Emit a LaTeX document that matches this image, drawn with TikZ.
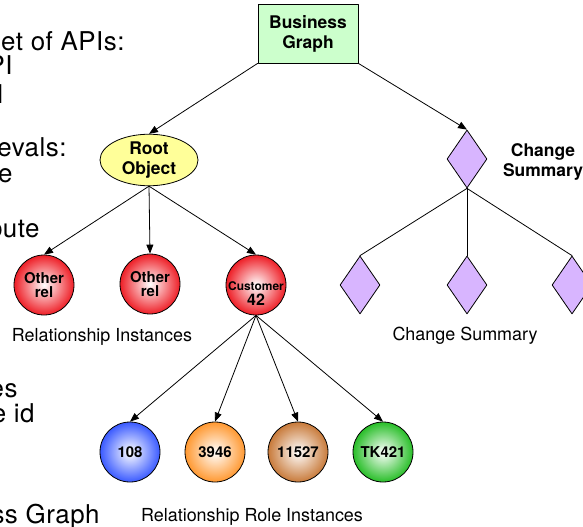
\documentclass[tikz,border=0pt]{standalone}
\usepackage{fontspec}
\setmainfont{TeX Gyre Heros}
\usetikzlibrary{shapes.geometric,arrows.meta}
\definecolor{bgreen}{RGB}{204,255,204}
\definecolor{ryellow}{RGB}{255,255,153}
\definecolor{lav}{RGB}{216,181,255}
\definecolor{relred}{RGB}{238,30,38}
\definecolor{roleblue}{RGB}{58,90,255}
\definecolor{roleorange}{RGB}{255,152,48}
\definecolor{rolebrown}{RGB}{200,122,58}
\definecolor{rolegreen}{RGB}{40,190,40}
\begin{document}
\begin{tikzpicture}[x=1bp,y=-1bp,line join=round,line cap=round,>={Triangle[length=9pt,width=7pt]},line width=0.8pt]
		\tikzset{big/.style={font=\bfseries\fontsize{17.5}{20}\selectfont,align=center,inner sep=0pt},
			ball/.style={circle,draw,minimum size=60bp,inner sep=0pt,inner color=white,outer color=#1,font=\bfseries\fontsize{15}{14}\selectfont,align=center},
			kite/.style={diamond,draw,fill=lav,minimum width=40bp,minimum height=58bp,inner sep=0pt},
			caption/.style={font=\fontsize{18}{20}\selectfont,anchor=base,inner sep=0pt},
			side/.style={font=\fontsize{26}{28}\selectfont\addfontfeature{LetterSpace=2},anchor=base east,inner sep=0pt}}
		\useasboundingbox (0,0) rectangle (583,527);
		\clip (0,0) rectangle (583,527);
		\node[side] (s1) at (125,51) {et of APIs:};
		\node[side] (s2) at (13,75) {PI};
		\node[side] (s3) at (4,104) {I};
		\node[side] (s4) at (67,157) {evals:};
		\node[side] (s5) at (13,183) {e};
		\node[side] (s6) at (40,237) {bute};
		\node[side] (s7) at (18,397) {es};
		\node[side] (s8) at (35,422) {e id};
		\node[side] (s9) at (100,523) {ss Graph};
		\node[big,draw,fill=bgreen,minimum width=100bp,minimum height=59bp] (bg) at (308,33.5) {Business\\Graph};
		\node[big,ellipse,draw,fill=ryellow,minimum width=98bp,minimum height=47bp] (root) at (149,160) {Root\\Object};
		\node[ball=relred] (o1) at (44,285) {Other\\rel};
		\node[ball=relred] (o2) at (150,284) {Other\\rel};
		\node[ball=relred] (c42) at (256,285) {};
		\node[font=\bfseries\fontsize{12}{15}\selectfont,align=center,inner sep=0pt] (c42t) at (256,294) {Customer\\{\fontsize{16}{15}\selectfont 42}};
		\node[ball=roleblue] (r1) at (130,452) {108};
		\node[ball=roleorange] (r2) at (215,452) {3946};
		\node[ball=rolebrown] (r3) at (298,452) {11527};
		\node[ball=rolegreen] (r4) at (383,452) {TK421};
		\node[kite] (cs) at (467,159) {};
		\node[big] (cst) at (543,162) {Change\\Summary};
		\foreach \x/\n in {360/d1,467/d2,572/d3}
		\node[kite] (\n) at (\x,285) {};
		\node[caption] (l1) at (102,341) {Relationship Instances};
		\node[caption] (l2) at (252,521) {Relationship Role Instances};
		\node[caption] (l3) at (465,340) {Change Summary};
		\draw[->] (bg.south west) -- (root.north);
		\draw[->] (bg.south east) -- (cs.north);
		\foreach \n in {o1,o2,c42}
		\draw[->] (root.south) -- (\n.north);
		\foreach \n in {r1,r2,r3,r4}
		\draw[->] (c42.south) -- (\n.north);
		\foreach \n in {d1,d2,d3}
		\draw (cs.south) -- (\n.north);
\end{tikzpicture}
\end{document}
